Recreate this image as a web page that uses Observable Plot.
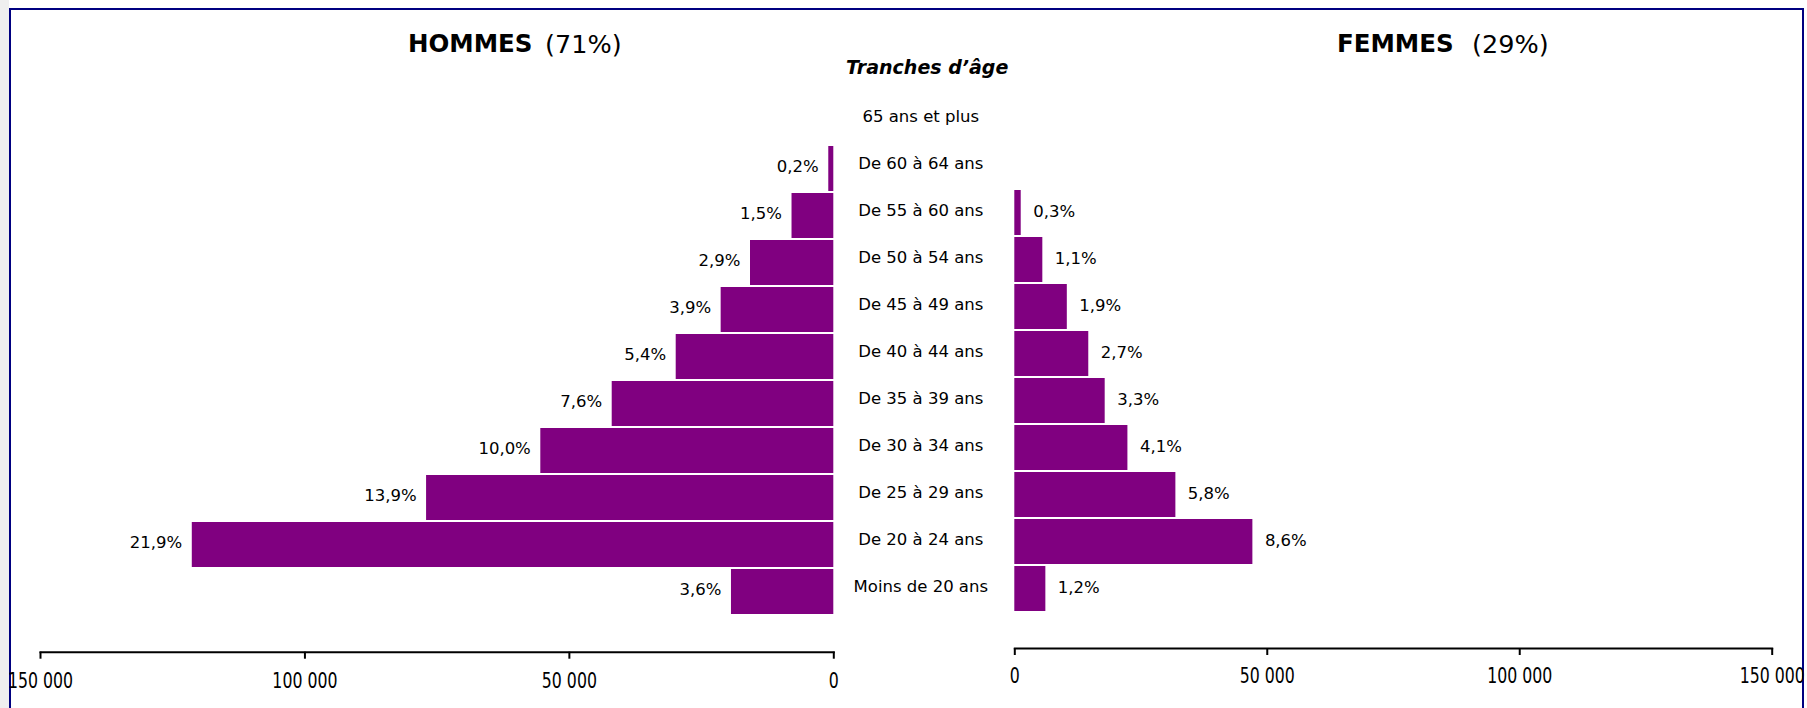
<!DOCTYPE html>
<html>
<head>
<meta charset="utf-8">
<script src="https://cdn.jsdelivr.net/npm/d3@7"></script>
<script src="https://cdn.jsdelivr.net/npm/@observablehq/plot@0.6"></script>
<style>
  body { margin: 0; background: #fff; }
  #wrap { position: relative; width: 1807px; height: 708px; overflow: hidden; background: #fff; font-family: "DejaVu Sans", sans-serif; color: #000; }
  #strip { position: absolute; left: 0; top: 0; width: 9px; height: 708px; background: #efefef; }
  #frame { position: absolute; left: 9px; top: 8px; width: 1795px; height: 760px; border: 2px solid #000080; box-sizing: border-box; }
  .t { position: absolute; white-space: pre; line-height: 30px; }
  .b { font-weight: bold; font-size: 24.5px; }
  .r { font-size: 25.5px; }
  #tr { position: absolute; left: 846px; top: 56px; font-size: 19px; line-height: 22px; font-weight: bold; font-style: italic; white-space: pre; }
  .plotbox { position: absolute; top: 0; }
  g[aria-label="x-axis tick label"] { font-family: "DejaVu Sans", sans-serif; font-size: 21.3px; }
</style>
</head>
<body>
<div id="wrap">
  <div id="strip"></div>
  <div id="frame"></div>
  <span class="t b" style="left:408px;top:29px;">HOMMES</span>
  <span class="t r" style="left:545px;top:29px;">(71%)</span>
  <span class="t b" style="left:1337px;top:29px;">FEMMES</span>
  <span class="t r" style="left:1472px;top:29px;">(29%)</span>
  <span id="tr">Tranches d’âge</span>
  <div id="left" class="plotbox" style="left:0px;"></div>
  <div id="right" class="plotbox" style="left:1000px;"></div>
</div>
<script>
const categories = ["65 ans et plus", "De 60 à 64 ans", "De 55 à 60 ans", "De 50 à 54 ans", "De 45 à 49 ans", "De 40 à 44 ans", "De 35 à 39 ans", "De 30 à 34 ans", "De 25 à 29 ans", "De 20 à 24 ans", "Moins de 20 ans"];
const hommes = [0, 950, 7900, 15750, 21300, 29800, 41900, 55400, 77000, 121300, 19350];
const femmes = [0, 0, 1270, 5550, 10400, 14650, 17900, 22400, 31900, 47150, 6150];
const hommesPct = ["", "0,2%", "1,5%", "2,9%", "3,9%", "5,4%", "7,6%", "10,0%", "13,9%", "21,9%", "3,6%"];
const femmesPct = ["", "", "0,3%", "1,1%", "1,9%", "2,7%", "3,3%", "4,1%", "5,8%", "8,6%", "1,2%"];
const xTicks = [0, 50000, 100000, 150000];

const rowsH = categories.map((c, i) => ({cat: c, v: hommes[i], pct: hommesPct[i]}));
const rowsF = categories.map((c, i) => ({cat: c, v: femmes[i], pct: femmesPct[i]}));
const fmt = d => d3.format(",")(d).replace(/,/g, " ");
const purple = "#800080";
const font = "DejaVu Sans, sans-serif";

// narrow the axis tick labels horizontally (the original uses a condensed face)
function squeezeTicks(svg, sx) {
  svg.querySelectorAll('g[aria-label="x-axis tick label"] text').forEach(t => {
    const xa = t.getAttribute("x");
    let tx = 0;
    if (xa !== null && !isNaN(+xa)) { tx = +xa; t.removeAttribute("x"); }
    t.setAttribute("transform", `${t.getAttribute("transform") || ""} translate(${tx},0) scale(${sx},1)`);
  });
}

const left = Plot.plot({
  width: 1000, height: 708,
  marginLeft: 40, marginRight: 166.7, marginTop: 97.7, marginBottom: 56.3,
  style: {background: "transparent", overflow: "visible", fontFamily: font, color: "black"},
  x: {domain: [0, 150000], reverse: true, label: null},
  y: {domain: categories, paddingInner: 0.04, paddingOuter: 0, insetBottom: 36.7, axis: null},
  marks: [
    Plot.barX(rowsH, {x: "v", y: "cat", fill: purple}),
    Plot.text(rowsH.filter(d => d.pct), {x: "v", y: "cat", text: "pct", textAnchor: "end", dx: -10, dy: -2, fontSize: 16.5, fill: "black"}),
    Plot.text(rowsH, {x: 0, y: "cat", text: "cat", textAnchor: "middle", dx: 87, dy: -5, fontSize: 16.5, fill: "black"}),
    Plot.frame({anchor: "bottom", stroke: "black", strokeWidth: 2}),
    Plot.axisX({ticks: xTicks, tickFormat: fmt, tickSize: 7, tickPadding: 14, strokeWidth: 2, color: "black", label: null})
  ]
});
squeezeTicks(left, 0.74);
document.getElementById("left").appendChild(left);

const right = Plot.plot({
  width: 807, height: 708,
  marginLeft: 14.3, marginRight: 35.3, marginTop: 94.9, marginBottom: 60,
  style: {background: "transparent", overflow: "visible", fontFamily: font, color: "black"},
  x: {domain: [0, 150000], label: null},
  y: {domain: categories, paddingInner: 0.04, paddingOuter: 0, insetBottom: 35.7, axis: null},
  marks: [
    Plot.barX(rowsF, {x: "v", y: "cat", fill: purple}),
    Plot.text(rowsF.filter(d => d.pct), {x: "v", y: "cat", text: "pct", textAnchor: "start", dx: 12, dy: -1, fontSize: 16.5, fill: "black"}),
    Plot.frame({anchor: "bottom", stroke: "black", strokeWidth: 2}),
    Plot.axisX({ticks: xTicks, tickFormat: fmt, tickSize: 7, tickPadding: 12, strokeWidth: 2, color: "black", label: null})
  ]
});
squeezeTicks(right, 0.74);
document.getElementById("right").appendChild(right);
</script>
</body>
</html>
